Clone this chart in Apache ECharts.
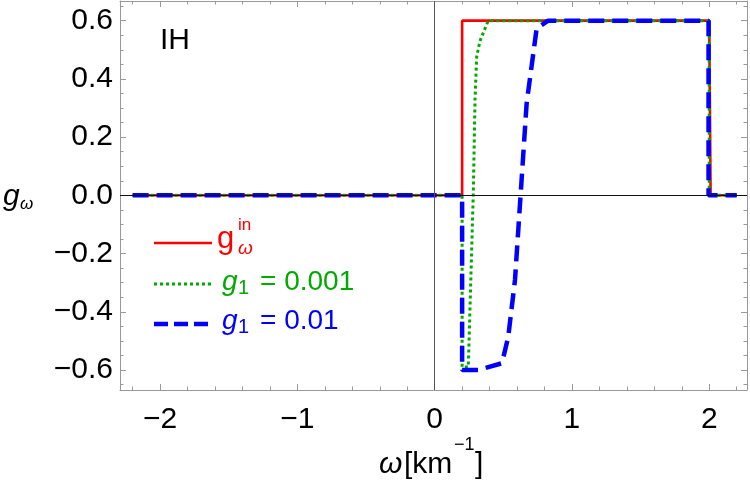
<!DOCTYPE html>
<html>
<head>
<meta charset="utf-8">
<script src="https://cdn.jsdelivr.net/npm/echarts@6/dist/echarts.min.js"></script>
<style>
html,body{margin:0;padding:0;background:#fff;}
#chart{width:750px;height:488px;}
</style>
</head>
<body>
<div id="chart"></div>
<script>
// axis ranges (Mathematica frame with padding)
var xMin = -2.292, xMax = 2.275;
var yMin = -0.6688, yMax = 0.6675;

// ticks
var xMajor = [-2, -1, 0, 1, 2];
var xMinor = [-2.2, -1.8, -1.6, -1.4, -1.2, -0.8, -0.6, -0.4, -0.2, 0.2, 0.4, 0.6, 0.8, 1.2, 1.4, 1.6, 1.8, 2.2];
var yMajor = [-0.6, -0.4, -0.2, 0, 0.2, 0.4, 0.6];
var yMinor = [-0.65, -0.55, -0.5, -0.45, -0.35, -0.3, -0.25, -0.15, -0.1, -0.05,
	0.05, 0.1, 0.15, 0.25, 0.3, 0.35, 0.45, 0.5, 0.55, 0.65];

// g_omega^in (red)
var redX = [-2.2, 0.2, 0.2, 2.0, 2.01, 2.2];
var redY = [0, 0, 0.6, 0.6, 0, 0];
// g1 = 0.001 (green)
var greenX = [-2.2, 0.2, 0.2, 0.245, 0.281, 0.294, 0.306, 0.33, 0.39, 2.0, 2.0, 2.2];
var greenY = [0, 0, -0.59, -0.59, 0, 0.33, 0.476, 0.53, 0.6, 0.6, 0, 0];
// g1 = 0.01 (blue)
var blueX = [-2.2, 0.2, 0.2, 0.32, 0.49, 0.536, 0.585, 0.67, 0.743, 0.827, 1.995, 1.995, 2.2];
var blueY = [0, 0, -0.6, -0.6, -0.577, -0.486, -0.291, 0.316, 0.574, 0.6, 0.6, 0, 0];

var legendSub = ['in', '1', '1'];
var legendVal = ['', '= 0.001', '= 0.01'];

var frameColor = '#999';
var font = 'Liberation Sans';

function zip(xs, ys) {
	var out = [];
	for (var i = 0; i < xs.length; i++) {
		out.push([xs[i], ys[i]]);
	}
	return out;
}

function minusFmt(v, dec) {
	var s = Math.abs(v).toFixed(dec);
	return (v < 0 ? '\u2212' : '') + s;
}

function mkX(pos, ticks, len, showLine, showLabel) {
	return {
		type : 'value',
		position : pos,
		min : xMin,
		max : xMax,
		axisLine : { show : showLine, onZero : false, lineStyle : { color : frameColor, width : 1 } },
		axisTick : { show : true, inside : true, length : len, customValues : ticks,
			lineStyle : { color : frameColor, width : 1 } },
		axisLabel : { show : showLabel, customValues : xMajor, margin : 15,
			fontSize : 30, fontFamily : font, color : '#000',
			formatter : function(v) { return minusFmt(v, 0); } },
		splitLine : { show : false }
	};
}

function mkY(pos, ticks, len, showLine, showLabel) {
	return {
		type : 'value',
		position : pos,
		min : yMin,
		max : yMax,
		axisLine : { show : showLine, onZero : false, lineStyle : { color : frameColor, width : 1 } },
		axisTick : { show : true, inside : true, length : len, customValues : ticks,
			lineStyle : { color : frameColor, width : 1 } },
		axisLabel : { show : showLabel, customValues : yMajor, margin : 7,
			fontSize : 30, fontFamily : font, color : '#000',
			formatter : function(v) { return minusFmt(v, 1); } },
		splitLine : { show : false }
	};
}

function txt(x, y, s, size, color, italic) {
	return {
		type : 'text',
		x : x,
		y : y,
		z : 100,
		style : {
			text : s,
			fill : color,
			font : (italic ? 'italic ' : '') + size + 'px "' + font + '"',
			textAlign : 'left',
			textVerticalAlign : 'middle'
		}
	};
}

function legLine(y, color, width, dash) {
	return {
		type : 'line',
		z : 100,
		shape : { x1 : 154, y1 : y, x2 : 212, y2 : y },
		style : { stroke : color, lineWidth : width, lineDash : dash }
	};
}

var chart = echarts.init(document.getElementById('chart'));
var option = {
	animation : false,
	backgroundColor : '#fff',
	grid : { left : 120, right : 3, top : 1, bottom : 98 },
	xAxis : [
		mkX('bottom', xMajor, 6, true, true),
		mkX('bottom', xMinor, 3.5, false, false),
		mkX('top', xMajor, 6, true, false),
		mkX('top', xMinor, 3.5, false, false)
	],
	yAxis : [
		mkY('left', yMajor, 6, true, true),
		mkY('left', yMinor, 3.5, false, false),
		mkY('right', yMajor, 6, true, false),
		mkY('right', yMinor, 3.5, false, false)
	],
	series : [ {
		type : 'line',
		data : [],
		silent : true,
		markLine : {
			silent : true,
			symbol : [ 'none', 'none' ],
			label : { show : false },
			lineStyle : { width : 1, type : 'solid' },
			data : [ { yAxis : 0, lineStyle : { color : '#111' } },
					 { xAxis : 0, lineStyle : { color : '#555' } } ]
		}
	}, {
		name : 'red',
		type : 'line',
		showSymbol : false,
		data : zip(redX, redY),
		lineStyle : { color : '#ff0000', width : 2.6 }
	}, {
		name : 'green',
		type : 'line',
		showSymbol : false,
		data : zip(greenX, greenY),
		lineStyle : { color : '#00aa00', width : 3, type : [ 3, 3 ] }
	}, {
		name : 'blue',
		type : 'line',
		showSymbol : false,
		data : zip(blueX, blueY),
		lineStyle : { color : '#0000ff', width : 4.5, type : [ 16, 8 ] }
	} ],
	graphic : [
		// panel label
		txt(160, 41, 'IH', 30, '#000', false),
		// y axis title g_omega
		txt(3, 197, 'g', 30, '#000', true),
		txt(20, 204, '\u03c9', 17, '#000', true),
		// x axis title omega [km^-1]
		txt(379, 465, '\u03c9', 30, '#000', true),
		txt(404, 465, '[km', 30, '#000', false),
		txt(454, 445, '\u22121', 18, '#000', false),
		txt(475, 465, ']', 30, '#000', false),
		// legend
		legLine(243, '#ff0000', 2.6, null),
		legLine(284, '#00aa00', 3, [ 3, 3 ]),
		legLine(324, '#0000ff', 4.5, [ 14, 6 ]),
		txt(217, 239, 'g', 31, '#ff0000', false),
		txt(238, 225, legendSub[0], 17, '#ff0000', false),
		txt(238, 249, '\u03c9', 19, '#ff0000', true),
		txt(222, 282, 'g', 28, '#00aa00', true),
		txt(238, 288, legendSub[1], 20, '#00aa00', false),
		txt(260, 282, legendVal[1], 28, '#00aa00', false),
		txt(222, 321, 'g', 28, '#0000ff', true),
		txt(238, 327, legendSub[2], 20, '#0000ff', false),
		txt(260, 321, legendVal[2], 28, '#0000ff', false)
	]
};
chart.setOption(option);
</script>
</body>
</html>
